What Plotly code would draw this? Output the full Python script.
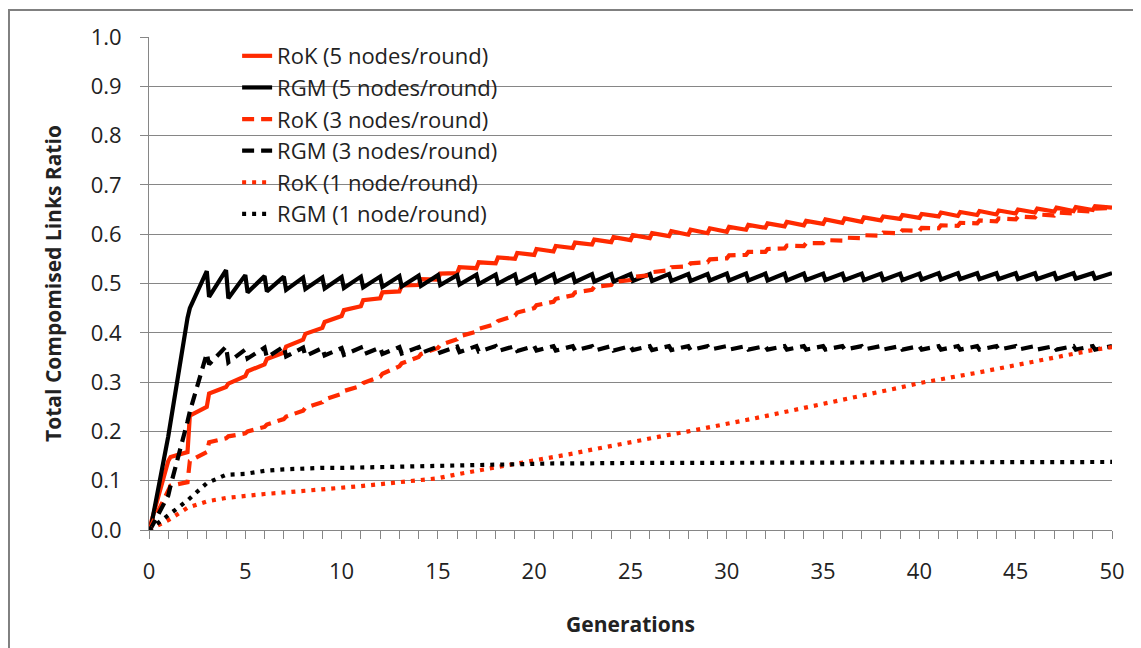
import plotly.graph_objects as go

# ---------------- data ----------------
generations = list(range(51))
UPDATE_OFFSET = 0.12  # within-generation position of the post-update value

# RoK (5 nodes/round): value at each generation (pre) and just after the update (post)
rok5_pre = [0.000, 0.140, 0.158, 0.250, 0.290, 0.312, 0.336, 0.360, 0.386, 0.410,
            0.434, 0.454, 0.470, 0.484, 0.497, 0.508, 0.521, 0.531, 0.541, 0.550,
            0.558, 0.565, 0.572, 0.579, 0.584, 0.588, 0.592, 0.596, 0.599, 0.602,
            0.605, 0.609, 0.613, 0.616, 0.618, 0.621, 0.623, 0.625, 0.628, 0.631,
            0.633, 0.636, 0.637, 0.639, 0.640, 0.642, 0.644, 0.646, 0.647, 0.649,
            0.654]
rok5_post = [0.017, 0.148, 0.232, 0.277, 0.297, 0.322, 0.347, 0.372, 0.398, 0.422,
             0.446, 0.466, 0.482, 0.496, 0.509, 0.520, 0.533, 0.543, 0.553, 0.562,
             0.570, 0.576, 0.583, 0.589, 0.594, 0.598, 0.602, 0.606, 0.609, 0.612,
             0.615, 0.619, 0.622, 0.625, 0.627, 0.630, 0.632, 0.634, 0.636, 0.639,
             0.641, 0.644, 0.645, 0.647, 0.648, 0.650, 0.652, 0.654, 0.655, 0.657]

# RGM (5 nodes/round)
rgm5_pre = [0.000, 0.190, 0.430, 0.525, 0.527, 0.517, 0.515, 0.514, 0.512, 0.512,
            0.513, 0.514, 0.514, 0.515, 0.516, 0.517, 0.517, 0.518, 0.518, 0.518,
            0.518, 0.519, 0.519, 0.519, 0.519, 0.519, 0.519, 0.519, 0.519, 0.519,
            0.520, 0.520, 0.520, 0.520, 0.520, 0.520, 0.520, 0.520, 0.520, 0.520,
            0.520, 0.521, 0.521, 0.521, 0.521, 0.521, 0.521, 0.521, 0.521, 0.521,
            0.521]
rgm5_post = [0.010, 0.220, 0.450, 0.473, 0.470, 0.482, 0.484, 0.487, 0.489, 0.490,
             0.491, 0.492, 0.493, 0.494, 0.495, 0.497, 0.498, 0.499, 0.500, 0.501,
             0.502, 0.503, 0.503, 0.504, 0.504, 0.505, 0.505, 0.505, 0.505, 0.506,
             0.506, 0.506, 0.506, 0.506, 0.507, 0.507, 0.507, 0.507, 0.507, 0.507,
             0.508, 0.508, 0.509, 0.509, 0.509, 0.509, 0.509, 0.509, 0.510, 0.510]

# RoK (3 nodes/round)
rok3_pre = [0.000, 0.085, 0.097, 0.158, 0.186, 0.196, 0.209, 0.225, 0.242, 0.259,
            0.276, 0.292, 0.311, 0.332, 0.351, 0.369, 0.387, 0.402, 0.418, 0.435,
            0.450, 0.463, 0.476, 0.487, 0.497, 0.507, 0.517, 0.527, 0.535, 0.543,
            0.551, 0.558, 0.564, 0.571, 0.576, 0.582, 0.587, 0.592, 0.597, 0.602,
            0.607, 0.612, 0.617, 0.622, 0.626, 0.630, 0.634, 0.638, 0.642, 0.646,
            0.653]
rok3_post = [0.010, 0.090, 0.140, 0.178, 0.190, 0.200, 0.214, 0.230, 0.248, 0.265,
             0.282, 0.298, 0.317, 0.338, 0.357, 0.375, 0.393, 0.408, 0.424, 0.441,
             0.456, 0.469, 0.482, 0.493, 0.503, 0.513, 0.523, 0.533, 0.541, 0.549,
             0.557, 0.564, 0.570, 0.577, 0.582, 0.588, 0.593, 0.598, 0.603, 0.608,
             0.613, 0.618, 0.623, 0.628, 0.632, 0.636, 0.640, 0.644, 0.648, 0.652]

# RGM (3 nodes/round)
rgm3_pre = [0.000, 0.070, 0.220, 0.358, 0.372, 0.366, 0.370, 0.372, 0.370, 0.369,
            0.369, 0.370, 0.370, 0.371, 0.371, 0.372, 0.372, 0.373, 0.373, 0.373,
            0.373, 0.373, 0.373, 0.373, 0.373, 0.373, 0.373, 0.373, 0.373, 0.373,
            0.373, 0.373, 0.373, 0.373, 0.373, 0.373, 0.373, 0.373, 0.373, 0.373,
            0.373, 0.373, 0.373, 0.373, 0.373, 0.373, 0.373, 0.373, 0.373, 0.373,
            0.373]
rgm3_post = [0.005, 0.090, 0.240, 0.336, 0.340, 0.348, 0.350, 0.352, 0.353, 0.354,
             0.355, 0.356, 0.357, 0.358, 0.359, 0.360, 0.361, 0.362, 0.363, 0.363,
             0.364, 0.364, 0.364, 0.364, 0.364, 0.365, 0.365, 0.365, 0.365, 0.366,
             0.366, 0.366, 0.366, 0.366, 0.366, 0.366, 0.366, 0.366, 0.366, 0.366,
             0.366, 0.366, 0.366, 0.366, 0.366, 0.366, 0.366, 0.366, 0.366, 0.366]

# RoK (1 node/round), one value per generation
rok1 = [0.000, 0.020, 0.045, 0.058, 0.065, 0.070, 0.073, 0.076, 0.079, 0.081,
        0.085, 0.089, 0.093, 0.097, 0.100, 0.105, 0.113, 0.120, 0.126, 0.133,
        0.139, 0.147, 0.155, 0.163, 0.171, 0.178, 0.186, 0.193, 0.200, 0.207,
        0.215, 0.223, 0.231, 0.239, 0.247, 0.255, 0.264, 0.272, 0.280, 0.289,
        0.298, 0.306, 0.312, 0.319, 0.327, 0.335, 0.343, 0.351, 0.358, 0.365,
        0.371]

# RGM (1 node/round), one value per generation
rgm1 = [0.000, 0.030, 0.060, 0.095, 0.112, 0.114, 0.120, 0.123, 0.125, 0.126,
        0.126, 0.127, 0.128, 0.129, 0.130, 0.131, 0.132, 0.133, 0.134, 0.134,
        0.135, 0.135, 0.135, 0.136, 0.136, 0.136, 0.136, 0.136, 0.137, 0.137,
        0.137, 0.137, 0.137, 0.137, 0.137, 0.137, 0.137, 0.137, 0.138, 0.138,
        0.138, 0.138, 0.138, 0.138, 0.138, 0.138, 0.138, 0.138, 0.138, 0.138,
        0.138]

series_names = ["RoK (5 nodes/round)", "RGM (5 nodes/round)",
                "RoK (3 nodes/round)", "RGM (3 nodes/round)",
                "RoK (1 node/round)", "RGM (1 node/round)"]
y_tick_values = [round(i * 0.1, 1) for i in range(11)]
x_tick_values = list(range(0, 51, 5))


def sawtooth(pre, post):
    xs, ys = [], []
    for g in range(len(post)):
        xs += [generations[g], generations[g] + UPDATE_OFFSET]
        ys += [pre[g], post[g]]
    xs.append(generations[len(post)])
    ys.append(pre[len(post)])
    return xs, ys


RED = "#ff2a00"
BLACK = "#000000"
GRAY = "#868686"
TEXT = "#222222"
FONT = "Open Sans, Liberation Sans, Arial, sans-serif"

fig = go.Figure()

specs = [
    (sawtooth(rok5_pre, rok5_post), RED, "solid"),
    (sawtooth(rgm5_pre, rgm5_post), BLACK, "solid"),
    (sawtooth(rok3_pre, rok3_post), RED, "12px,7px"),
    (sawtooth(rgm3_pre, rgm3_post), BLACK, "12px,7px"),
    ((generations, rok1), RED, "4px,6px"),
    ((generations, rgm1), BLACK, "4px,6px"),
]

for name, ((xs, ys), color, dash) in zip(series_names, specs):
    fig.add_trace(go.Scatter(
        x=xs, y=ys, mode="lines", name=name,
        line=dict(color=color, width=4.2, dash=dash),
    ))

# the page body adds an 8px offset, so the figure is 8px smaller than the window
fig.update_layout(
    width=1133, height=640,
    margin=dict(l=141, r=29, t=29, b=118, autoexpand=False),
    paper_bgcolor="white", plot_bgcolor="white",
    font=dict(family=FONT, color=TEXT, size=22),
    legend=dict(
        x=0.0915, y=1.004, xanchor="left", yanchor="top",
        bgcolor="rgba(255,255,255,0)", borderwidth=0,
        font=dict(family=FONT, size=22, color=TEXT),
        tracegroupgap=0,
    ),
    xaxis=dict(
        range=[0, 50], tickmode="array", tickvals=x_tick_values,
        automargin=False,
        ticks="outside", ticklen=8, tickcolor=GRAY, tickwidth=1,
        showline=True, linecolor=GRAY, linewidth=1,
        showgrid=False, zeroline=False,
        minor=dict(dtick=1, tick0=0, ticks="outside", ticklen=8,
                   tickcolor=GRAY, tickwidth=1, showgrid=False),
        tickfont=dict(family=FONT, size=22, color=TEXT),
        ticklabelstandoff=14,
        title=dict(text="<b>Generations</b>", standoff=32,
                   font=dict(family=FONT, size=21, color=TEXT)),
    ),
    yaxis=dict(
        range=[0, 1], tickmode="array", tickvals=y_tick_values,
        automargin=False,
        tickformat=".1f",
        ticks="outside", ticklen=8, tickcolor=GRAY, tickwidth=1,
        showline=True, linecolor=GRAY, linewidth=1,
        showgrid=True, gridcolor=GRAY, gridwidth=1, zeroline=False,
        tickfont=dict(family=FONT, size=22, color=TEXT),
        ticklabelstandoff=14,
        title=dict(text="<b>Total Compomised Links Ratio</b>", standoff=23,
                   font=dict(family=FONT, size=21, color=TEXT)),
    ),
    shapes=[dict(type="rect", xref="paper", yref="paper",
                 x0=-0.1454, x1=1.3, y0=-0.4, y1=1.0548,
                 line=dict(color="#808080", width=2), fillcolor="rgba(0,0,0,0)",
                 layer="below")],
)

fig.write_html("out.html")
